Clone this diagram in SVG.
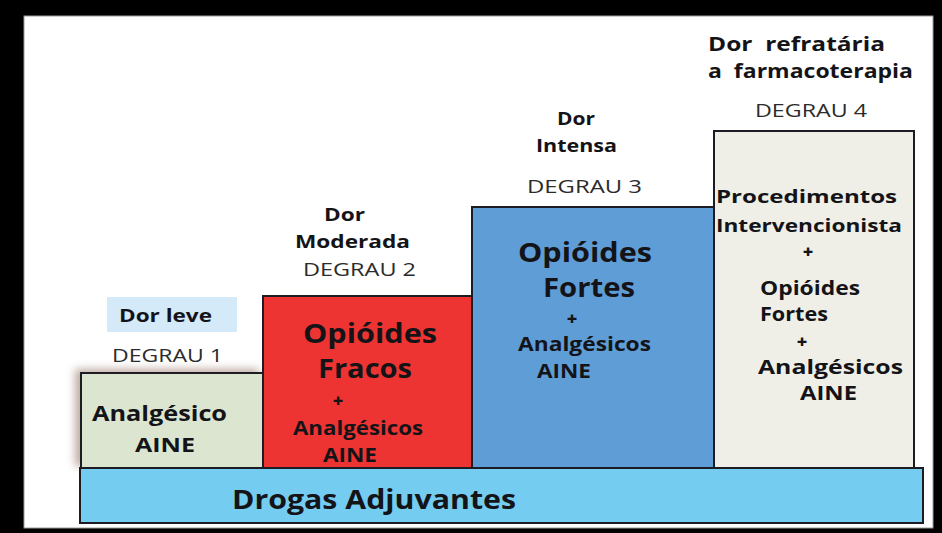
<svg xmlns="http://www.w3.org/2000/svg" width="942" height="533" viewBox="0 0 942 533">
<defs>
<style>
.b{font-family:"Open Sans","Liberation Sans",sans-serif;font-weight:700;fill:#141418}
.r{font-family:"Open Sans","Liberation Sans",sans-serif;font-weight:400;fill:#2b2b2b}
.p{font-family:"Open Sans","Liberation Sans",sans-serif;font-weight:800;fill:#141418;font-size:18px;text-anchor:middle}
.box{stroke:#1c1c22;stroke-width:2}
</style>
<filter id="sh" x="-20%" y="-20%" width="140%" height="140%">
<feGaussianBlur in="SourceAlpha" stdDeviation="4"/>
<feOffset dx="-5" dy="-3" result="o"/>
<feFlood flood-color="#8a6656" flood-opacity="0.55"/>
<feComposite in2="o" operator="in"/>
<feMerge><feMergeNode/><feMergeNode in="SourceGraphic"/></feMerge>
</filter>
</defs>
<rect x="0" y="0" width="942" height="533" fill="#000"/>
<rect x="24" y="16" width="909" height="512" fill="#fff" stroke="#9a9a9a" stroke-width="1"/>

<g id="degrau1">
<rect x="107" y="297" width="130" height="35" fill="#d5eaf8"/>
<text class="b" x="119" y="322" font-size="18" textLength="93" lengthAdjust="spacingAndGlyphs">Dor leve</text>
<text class="r" x="112" y="362" font-size="19" textLength="111" lengthAdjust="spacingAndGlyphs">DEGRAU 1</text>
<rect class="box" x="81" y="373" width="182" height="95" fill="#dbe5cf" filter="url(#sh)"/>
<text class="b" x="92" y="421" font-size="21" textLength="135" lengthAdjust="spacingAndGlyphs">Analgésico</text>
<text class="b" x="135" y="452" font-size="20" textLength="60" lengthAdjust="spacingAndGlyphs">AINE</text>
</g>

<g id="degrau2">
<text class="b" x="324" y="221" font-size="18" textLength="41" lengthAdjust="spacingAndGlyphs">Dor</text>
<text class="b" x="295" y="248" font-size="18" textLength="115" lengthAdjust="spacingAndGlyphs">Moderada</text>
<text class="r" x="303" y="276" font-size="19" textLength="113" lengthAdjust="spacingAndGlyphs">DEGRAU 2</text>
<rect class="box" x="263" y="296" width="209" height="172" fill="#ee3432"/>
<text class="b" x="303" y="343" font-size="26" textLength="134" lengthAdjust="spacingAndGlyphs">Opióides</text>
<text class="b" x="318" y="378" font-size="26" textLength="94" lengthAdjust="spacingAndGlyphs">Fracos</text>
<text class="p" x="338" y="407">+</text>
<text class="b" x="293" y="435" font-size="19" textLength="130" lengthAdjust="spacingAndGlyphs">Analgésicos</text>
<text class="b" x="323" y="462" font-size="19" textLength="54" lengthAdjust="spacingAndGlyphs">AINE</text>
</g>

<g id="degrau3">
<text class="b" x="557" y="125" font-size="18" textLength="38" lengthAdjust="spacingAndGlyphs">Dor</text>
<text class="b" x="536" y="152" font-size="18" textLength="81" lengthAdjust="spacingAndGlyphs">Intensa</text>
<text class="r" x="527" y="193" font-size="19" textLength="115" lengthAdjust="spacingAndGlyphs">DEGRAU 3</text>
<rect class="box" x="472" y="207" width="242" height="261" fill="#5f9dd6"/>
<text class="b" x="518" y="262" font-size="26" textLength="134" lengthAdjust="spacingAndGlyphs">Opióides</text>
<text class="b" x="543" y="297" font-size="26" textLength="92" lengthAdjust="spacingAndGlyphs">Fortes</text>
<text class="p" x="572" y="325">+</text>
<text class="b" x="518" y="351" font-size="19" textLength="133" lengthAdjust="spacingAndGlyphs">Analgésicos</text>
<text class="b" x="537" y="378" font-size="19" textLength="54" lengthAdjust="spacingAndGlyphs">AINE</text>
</g>

<g id="degrau4">
<text class="b" x="708" y="51" font-size="19" textLength="177" lengthAdjust="spacingAndGlyphs" xml:space="preserve">Dor  refratária</text>
<text class="b" x="708" y="78" font-size="19" textLength="205" lengthAdjust="spacingAndGlyphs" xml:space="preserve">a  farmacoterapia</text>
<text class="r" x="755" y="117" font-size="19" textLength="112" lengthAdjust="spacingAndGlyphs">DEGRAU 4</text>
<rect class="box" x="714" y="131" width="200" height="337" fill="#efefe7"/>
<text class="b" x="716" y="203" font-size="18" textLength="181" lengthAdjust="spacingAndGlyphs">Procedimentos</text>
<text class="b" x="716" y="232" font-size="18" textLength="186" lengthAdjust="spacingAndGlyphs">Intervencionista</text>
<text class="p" x="808" y="258">+</text>
<text class="b" x="760" y="295" font-size="19" textLength="100" lengthAdjust="spacingAndGlyphs">Opióides</text>
<text class="b" x="760" y="321" font-size="19" textLength="68" lengthAdjust="spacingAndGlyphs">Fortes</text>
<text class="p" x="802" y="348">+</text>
<text class="b" x="758" y="374" font-size="19" textLength="145" lengthAdjust="spacingAndGlyphs">Analgésicos</text>
<text class="b" x="800" y="400" font-size="19" textLength="57" lengthAdjust="spacingAndGlyphs">AINE</text>
</g>

<g id="base">
<rect class="box" x="80" y="468" width="843" height="55" fill="#74cdf1"/>
<text class="b" x="232" y="509" font-size="26" textLength="284" lengthAdjust="spacingAndGlyphs">Drogas Adjuvantes</text>
</g>
<g id="connectors"/>
</svg>
